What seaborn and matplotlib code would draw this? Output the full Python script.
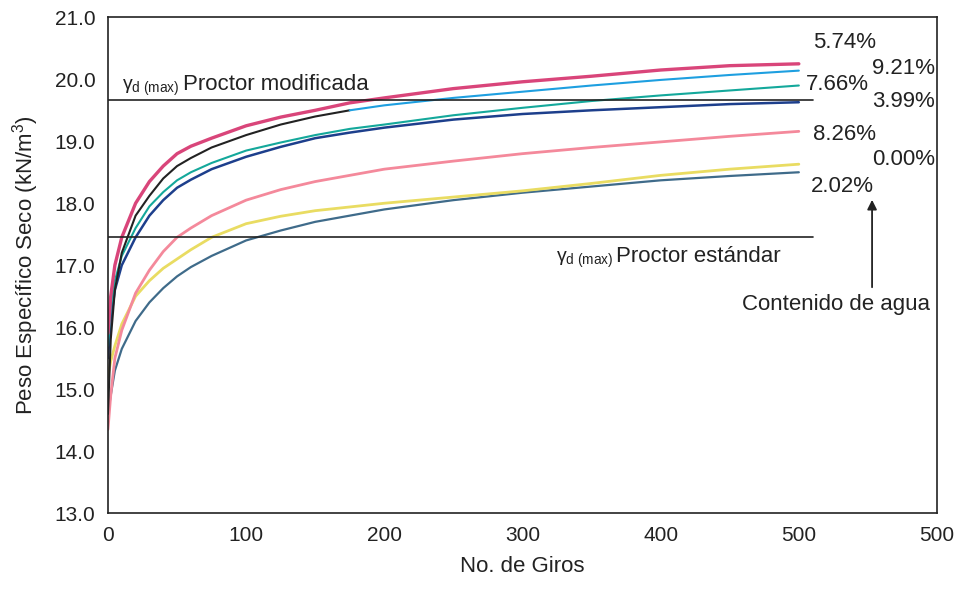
import matplotlib
matplotlib.use("Agg")
import matplotlib.pyplot as plt
import seaborn as sns
import pandas as pd

# ---- data ----
giros = [0, 2, 5, 10, 20, 30, 40, 50, 60, 75, 100, 125, 150, 175, 200, 250, 300, 350, 400, 450, 500]

w_574 = [15.9, 16.5, 17.0, 17.45, 18.0, 18.35, 18.6, 18.8, 18.92, 19.05, 19.25, 19.39, 19.5, 19.62, 19.7, 19.85, 19.96, 20.05, 20.15, 20.22, 20.25]
w_921 = [14.6, 15.8, 16.6, 17.2, 17.8, 18.12, 18.4, 18.6, 18.73, 18.9, 19.1, 19.27, 19.4, 19.5, 19.58, 19.7, 19.8, 19.9, 19.99, 20.07, 20.14]
w_766 = [15.7, 16.3, 16.75, 17.15, 17.6, 17.95, 18.18, 18.37, 18.5, 18.65, 18.85, 18.98, 19.1, 19.2, 19.27, 19.42, 19.54, 19.65, 19.74, 19.82, 19.9]
w_399 = [15.5, 16.1, 16.6, 17.0, 17.45, 17.8, 18.05, 18.25, 18.38, 18.55, 18.75, 18.91, 19.05, 19.14, 19.22, 19.35, 19.44, 19.5, 19.55, 19.6, 19.63]
w_826 = [14.35, 14.9, 15.5, 15.95, 16.55, 16.92, 17.22, 17.45, 17.6, 17.8, 18.05, 18.22, 18.35, 18.45, 18.55, 18.68, 18.8, 18.9, 18.99, 19.08, 19.16]
w_000 = [15.2, 15.45, 15.7, 16.05, 16.5, 16.75, 16.95, 17.1, 17.25, 17.45, 17.67, 17.79, 17.88, 17.94, 18.0, 18.1, 18.2, 18.32, 18.45, 18.55, 18.63]
w_202 = [14.6, 14.9, 15.3, 15.65, 16.1, 16.4, 16.63, 16.82, 16.97, 17.15, 17.4, 17.56, 17.7, 17.8, 17.9, 18.05, 18.17, 18.27, 18.37, 18.44, 18.5]

series_labels = ["5.74%", "9.21%", "7.66%", "3.99%", "8.26%", "0.00%", "2.02%"]
label_x = [510, 553, 505, 553, 510, 553, 509]
label_y = [20.6, 20.18, 19.92, 19.64, 19.11, 18.71, 18.27]

proctor_mod = 19.66
proctor_std = 17.45
proctor_x_end = 510

x_ticks = [0, 100, 200, 300, 400, 500, 600]
x_ticklabels = ["0", "100", "200", "300", "400", "500", "500"]
y_ticks = [13, 14, 15, 16, 17, 18, 19, 20, 21]

# ---- style ----
sns.set_theme(style="white")
plt.rcParams['font.family'] = ['Liberation Sans', 'DejaVu Sans']
plt.rcParams['mathtext.fontset'] = 'custom'
plt.rcParams['mathtext.rm'] = 'Liberation Sans'
plt.rcParams['mathtext.it'] = 'Liberation Sans'

fig = plt.figure(figsize=(9.64, 5.98), dpi=100)
ax = fig.add_axes([0.112, 0.142, 0.86, 0.829])

colors = {
    "5.74%": "#d9457a",
    "9.21%": "#1e9fe0",
    "7.66%": "#14a89b",
    "3.99%": "#1d3f8c",
    "8.26%": "#f4899b",
    "0.00%": "#e9dc62",
    "2.02%": "#3f6b8a",
}
widths = {"5.74%": 2.4, "9.21%": 1.5, "7.66%": 1.5, "3.99%": 1.8,
          "8.26%": 2.0, "0.00%": 2.0, "2.02%": 1.6}

values = {"5.74%": w_574, "9.21%": w_921, "7.66%": w_766, "3.99%": w_399,
          "8.26%": w_826, "0.00%": w_000, "2.02%": w_202}

draw_order = ["2.02%", "0.00%", "8.26%", "3.99%", "7.66%", "9.21%", "5.74%"]
for name in draw_order:
    df = pd.DataFrame({"giros": giros, "peso": values[name]})
    if name == "9.21%":
        d1 = df[df.giros <= 175]
        d2 = df[df.giros >= 175]
        sns.lineplot(data=d1, x="giros", y="peso", ax=ax, color="#222222",
                     linewidth=1.5, sort=False)
        sns.lineplot(data=d2, x="giros", y="peso", ax=ax, color=colors[name],
                     linewidth=1.5, sort=False)
    else:
        sns.lineplot(data=df, x="giros", y="peso", ax=ax, color=colors[name],
                     linewidth=widths[name], sort=False)

# Proctor reference lines
ax.plot([0, proctor_x_end], [proctor_mod, proctor_mod], color="#222222", lw=1.2)
ax.plot([0, proctor_x_end], [proctor_std, proctor_std], color="#222222", lw=1.2)

gamma = r"$\mathrm{γ}_{\mathrm{d\ (max)}}$"
ax.text(10, 19.82, gamma, fontsize=14, color="#222222", va="baseline")
ax.text(54, 19.82, "Proctor modificada", fontsize=16, color="#222222", va="baseline")
ax.text(324, 17.05, gamma, fontsize=14, color="#222222", va="baseline")
ax.text(368, 17.05, "Proctor estándar", fontsize=16, color="#222222", va="baseline")

for lab, lx, ly in zip(series_labels, label_x, label_y):
    ax.text(lx, ly, lab, fontsize=16, color="#222222", va="center", ha="left")

ax.annotate("", xy=(553, 18.1), xytext=(553, 16.6),
            arrowprops=dict(arrowstyle="-|>", color="#222222", lw=1.3,
                            mutation_scale=14))
ax.text(527, 16.36, "Contenido de agua", fontsize=16, color="#222222",
        ha="center", va="center")

ax.set_xlim(0, 600)
ax.set_ylim(13, 21)
ax.set_xticks(x_ticks)
ax.set_xticklabels(x_ticklabels)
ax.set_yticks(y_ticks)
ax.set_yticklabels([f"{v:.1f}" for v in y_ticks])
ax.tick_params(axis="both", which="major", length=0, labelsize=15,
               labelcolor="#222222", pad=9)
ax.set_xticks([0, 600], minor=True)
ax.set_yticks([13, 21], minor=True)
ax.tick_params(axis="both", which="minor", length=7, width=1.2,
               color="#222222", direction="out")

ax.set_xlabel("No. de Giros", fontsize=16, color="#222222", labelpad=8)
ax.set_ylabel(r"Peso Específico Seco (kN/m$^3$)", fontsize=16, color="#222222", labelpad=10)

for s in ax.spines.values():
    s.set_color("#222222")
    s.set_linewidth(1.2)
    s.set_visible(True)

fig.savefig("out.png", dpi=100, facecolor="white")
